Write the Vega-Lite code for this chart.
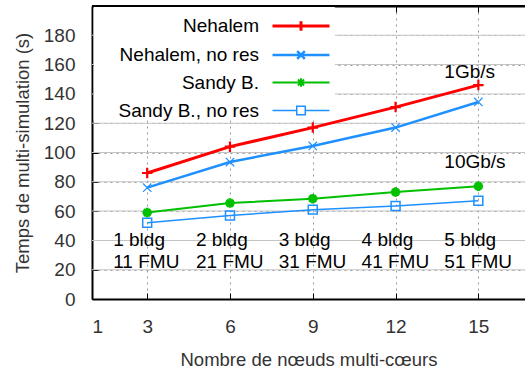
{
  "$schema": "https://vega.github.io/schema/vega-lite/v6.json",
  "width": 433,
  "height": 293,
  "autosize": {"type": "none"},
  "padding": {"left": 92, "top": 6, "right": 0, "bottom": 72},
  "background": "white",
  "config": {
    "view": {"stroke": null},
    "axis": {
      "labelFont": "Liberation Sans",
      "labelFontSize": 19,
      "labelColor": "#333333",
      "labelOverlap": false,
      "titleFont": "Liberation Sans",
      "titleFontSize": 18.5,
      "titleFontWeight": "normal",
      "titleColor": "#333333",
      "domainColor": "black",
      "domainWidth": 2,
      "tickColor": "black",
      "tickWidth": 1,
      "gridColor": "#999999",
      "gridOpacity": 1,
      "gridWidth": 1
    }
  },
  "datasets": {
    "runs": [
      {"series": "Nehalem", "nodes": 3, "time": 86},
      {"series": "Nehalem", "nodes": 6, "time": 104},
      {"series": "Nehalem", "nodes": 9, "time": 117},
      {"series": "Nehalem", "nodes": 12, "time": 131},
      {"series": "Nehalem", "nodes": 15, "time": 146},
      {"series": "Nehalem, no res", "nodes": 3, "time": 76},
      {"series": "Nehalem, no res", "nodes": 6, "time": 93.5},
      {"series": "Nehalem, no res", "nodes": 9, "time": 104.5},
      {"series": "Nehalem, no res", "nodes": 12, "time": 117},
      {"series": "Nehalem, no res", "nodes": 15, "time": 134.5},
      {"series": "Sandy B.", "nodes": 3, "time": 59},
      {"series": "Sandy B.", "nodes": 6, "time": 65.5},
      {"series": "Sandy B.", "nodes": 9, "time": 68.5},
      {"series": "Sandy B.", "nodes": 12, "time": 73},
      {"series": "Sandy B.", "nodes": 15, "time": 77},
      {"series": "Sandy B., no res", "nodes": 3, "time": 52},
      {"series": "Sandy B., no res", "nodes": 6, "time": 57},
      {"series": "Sandy B., no res", "nodes": 9, "time": 61},
      {"series": "Sandy B., no res", "nodes": 12, "time": 63.5},
      {"series": "Sandy B., no res", "nodes": 15, "time": 67}
    ],
    "ygrid": [
      {"time": 20}, {"time": 40}, {"time": 60}, {"time": 80}, {"time": 100},
      {"time": 120}, {"time": 140}, {"time": 160}, {"time": 180}
    ],
    "notes": [
      {"nodes": 15, "time": 155, "label": "1Gb/s"},
      {"nodes": 15, "time": 93.5, "label": "10Gb/s"},
      {"nodes": 3, "time": 40, "label": "1 bldg\n11 FMU"},
      {"nodes": 6, "time": 40, "label": "2 bldg\n21 FMU"},
      {"nodes": 9, "time": 40, "label": "3 bldg\n31 FMU"},
      {"nodes": 12, "time": 40, "label": "4 bldg\n41 FMU"},
      {"nodes": 15, "time": 40, "label": "5 bldg\n51 FMU"}
    ]
  },
  "resolve": {"axis": {"x": "independent", "y": "independent"}},
  "layer": [
    {
      "data": {"name": "ygrid"},
      "mark": {"type": "tick", "orient": "horizontal", "size": 433, "thickness": 1, "color": "#c4c4c4", "opacity": 1},
      "encoding": {
        "x": {"datum": 8.845, "type": "quantitative", "axis": null},
        "y": {"field": "time", "type": "quantitative", "axis": null}
      }
    },
    {
      "data": {"values": [{}]},
      "mark": {"type": "rect", "fill": "white"},
      "encoding": {
        "x": {
          "datum": 1.06, "type": "quantitative",
          "scale": {"domain": [1, 16.69], "nice": false, "zero": false},
          "axis": {
            "orient": "bottom", "values": [1, 3, 6, 9, 12, 15],
            "title": "Nombre de nœuds multi-cœurs",
            "grid": true, "gridDash": [2, 4], "tickSize": -6, "labelPadding": 24, "titlePadding": 14
          }
        },
        "x2": {"datum": 9.8},
        "y": {
          "datum": 122, "type": "quantitative",
          "scale": {"domain": [0, 200], "nice": false},
          "axis": {
            "orient": "left",
            "values": [0, 20, 40, 60, 80, 100, 120, 140, 160, 180],
            "title": "Temps de multi-simulation (s)",
            "grid": true, "gridDash": [2, 4], "tickSize": -6, "labelPadding": 23, "titlePadding": 11
          }
        },
        "y2": {"datum": 199.3}
      }
    },
    {
      "data": {"values": [{}]},
      "mark": {"type": "tick", "orient": "horizontal", "size": 433, "thickness": 2, "color": "black", "opacity": 1},
      "encoding": {
        "x": {"datum": 8.845, "type": "quantitative", "axis": null},
        "y": {"datum": 200, "type": "quantitative", "axis": null}
      }
    },
    {
      "data": {"name": "runs"},
      "mark": {"type": "line", "clip": true},
      "encoding": {
        "x": {"field": "nodes", "type": "quantitative", "axis": null},
        "y": {"field": "time", "type": "quantitative", "axis": null},
        "color": {
          "field": "series", "type": "nominal",
          "scale": {
            "domain": ["Nehalem", "Nehalem, no res", "Sandy B.", "Sandy B., no res"],
            "range": ["#ff0000", "#1e90ff", "#00c000", "#1e90ff"]
          },
          "legend": {
            "orient": "none", "legendX": 198, "legendY": 9, "title": null,
            "padding": 0, "rowPadding": 7,
            "symbolType": "stroke", "symbolSize": 361, "symbolStrokeWidth": 2,
            "labelAlign": "right", "labelOffset": -53,
            "labelFont": "Liberation Sans", "labelFontSize": 19, "labelColor": "black",
            "encode": {
              "symbols": {
                "update": {
                  "shape": {"signal": "datum.value === 'Nehalem' ? 'M-3,0L3,0M0,-0.5L0,0.5' : datum.value === 'Nehalem, no res' ? 'M-3,0L3,0M-0.4,-0.4L0.4,0.4M-0.4,0.4L0.4,-0.4' : datum.value === 'Sandy B.' ? 'M-3,0L3,0M0,-0.45L0,0.45M-0.32,-0.32L0.32,0.32M-0.32,0.32L0.32,-0.32' : 'M-3,0L-0.45,0M0.45,0L3,0M-0.45,-0.45L0.45,-0.45L0.45,0.45L-0.45,0.45Z'"},
                  "strokeWidth": {"signal": "datum.value === 'Nehalem' || datum.value === 'Sandy B.' ? 3 : 1.5"},
                  "fill": {"value": "transparent"}
                }
              }
            }
          }
        },
        "strokeWidth": {
          "field": "series", "type": "nominal",
          "scale": {
            "domain": ["Nehalem", "Nehalem, no res", "Sandy B.", "Sandy B., no res"],
            "range": [3, 1.5, 3, 1.5]
          },
          "legend": null
        }
      }
    },
    {
      "data": {"name": "runs"},
      "transform": [{"filter": "datum.series === 'Nehalem'"}],
      "mark": {"type": "point", "filled": false, "opacity": 1, "shape": "M-1,0L1,0M0,-1L0,1", "size": 110, "strokeWidth": 2.2},
      "encoding": {
        "x": {"field": "nodes", "type": "quantitative", "axis": null},
        "y": {"field": "time", "type": "quantitative", "axis": null},
        "color": {"field": "series", "type": "nominal"}
      }
    },
    {
      "data": {"name": "runs"},
      "transform": [{"filter": "datum.series === 'Nehalem, no res'"}],
      "mark": {"type": "point", "filled": false, "opacity": 1, "shape": "M-1,-1L1,1M-1,1L1,-1", "size": 70, "strokeWidth": 1.2},
      "encoding": {
        "x": {"field": "nodes", "type": "quantitative", "axis": null},
        "y": {"field": "time", "type": "quantitative", "axis": null},
        "color": {"field": "series", "type": "nominal"}
      }
    },
    {
      "data": {"name": "runs"},
      "transform": [{"filter": "datum.series === 'Sandy B.'"}],
      "mark": {"type": "point", "filled": false, "opacity": 1, "shape": "M-1,0L1,0M0,-1L0,1M-0.7,-0.7L0.7,0.7M-0.7,0.7L0.7,-0.7", "size": 90, "strokeWidth": 3},
      "encoding": {
        "x": {"field": "nodes", "type": "quantitative", "axis": null},
        "y": {"field": "time", "type": "quantitative", "axis": null},
        "color": {"field": "series", "type": "nominal"}
      }
    },
    {
      "data": {"name": "runs"},
      "transform": [{"filter": "datum.series === 'Sandy B., no res'"}],
      "mark": {"type": "point", "filled": false, "opacity": 1, "shape": "square", "size": 80, "strokeWidth": 1.5},
      "encoding": {
        "x": {"field": "nodes", "type": "quantitative", "axis": null},
        "y": {"field": "time", "type": "quantitative", "axis": null},
        "color": {"field": "series", "type": "nominal"}
      }
    },
    {
      "data": {"name": "notes"},
      "mark": {
        "type": "text", "align": "left", "baseline": "middle", "dx": -34,
        "lineBreak": "\n", "lineHeight": 22,
        "font": "Liberation Sans", "fontSize": 19, "color": "black"
      },
      "encoding": {
        "x": {
          "field": "nodes", "type": "quantitative",
          "axis": {
            "orient": "top", "values": [3, 6, 9, 12, 15], "labels": false,
            "title": null, "grid": false, "domain": true, "tickSize": -6
          }
        },
        "y": {"field": "time", "type": "quantitative", "axis": null},
        "text": {"field": "label", "type": "nominal"}
      }
    }
  ]
}
